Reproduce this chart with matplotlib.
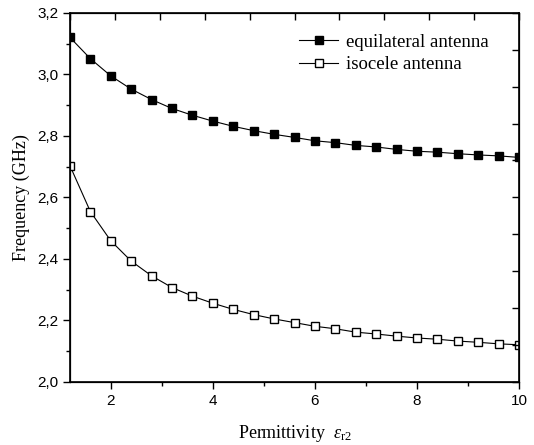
import numpy as np
import matplotlib
matplotlib.use('Agg')
import matplotlib.pyplot as plt
from matplotlib.ticker import FuncFormatter, MultipleLocator

plt.rcParams['mathtext.fontset'] = 'custom'
plt.rcParams['mathtext.rm'] = 'Liberation Serif'
plt.rcParams['mathtext.it'] = 'Liberation Serif:italic'

# permittivity values (x axis)
eps = [1.2, 1.6, 2.0, 2.4, 2.8, 3.2, 3.6, 4.0, 4.4, 4.8, 5.2, 5.6,
       6.0, 6.4, 6.8, 7.2, 7.6, 8.0, 8.4, 8.8, 9.2, 9.6, 10.0]

# frequency in GHz
f_equi = [3.120, 3.051, 2.995, 2.952, 2.918, 2.889, 2.867, 2.848, 2.831, 2.817,
          2.805, 2.795, 2.784, 2.778, 2.769, 2.764, 2.756, 2.750, 2.747, 2.742,
          2.738, 2.735, 2.730]
f_iso = [2.703, 2.554, 2.459, 2.393, 2.345, 2.307, 2.279, 2.256, 2.236, 2.219,
         2.205, 2.193, 2.181, 2.173, 2.162, 2.156, 2.149, 2.143, 2.139, 2.133,
         2.129, 2.124, 2.121]

fig = plt.figure(figsize=(5.34, 4.45), dpi=100)
ax = fig.add_axes([0.131, 0.1416, 0.841, 0.8296])

ax.plot(eps, f_equi, color='black', lw=0.8, marker='s', ms=6,
        mfc='black', mec='black', label='equilateral antenna')
ax.plot(eps, f_iso, color='black', lw=0.8, marker='s', ms=6,
        mfc='white', mec='black', mew=1.0, label='isocele antenna')

ax.set_xlim(1.2, 10)
ax.set_ylim(2.0, 3.2)
ax.xaxis.set_major_locator(MultipleLocator(2))
ax.xaxis.set_minor_locator(MultipleLocator(1))
ax.yaxis.set_major_locator(MultipleLocator(0.2))
ax.yaxis.set_minor_locator(MultipleLocator(0.1))

comma = FuncFormatter(lambda v, p: ('%.1f' % v).replace('.', ','))
ax.yaxis.set_major_formatter(comma)
ax.xaxis.set_major_formatter(FuncFormatter(lambda v, p: '%d' % round(v)))

for lab in ax.get_xticklabels() + ax.get_yticklabels():
    lab.set_fontfamily('Liberation Sans')
ax.tick_params(which='major', direction='out', length=5, width=1, labelsize=11)
ax.tick_params(which='minor', direction='out', length=3, width=1)
for s in ax.spines.values():
    s.set_linewidth(1.2)

# top / right axes: ten equal divisions, inward ticks, no labels
ax_t = ax.twiny()
ax_t.set_xlim(ax.get_xlim())
ax_t.set_xticks(np.linspace(1.2, 10, 11))
ax_t.tick_params(axis='x', direction='in', length=5, width=1, labeltop=False)
ax_r = ax.twinx()
ax_r.set_ylim(ax.get_ylim())
ax_r.set_yticks(np.linspace(2.0, 3.2, 11))
ax_r.tick_params(axis='y', direction='in', length=5, width=1, labelright=False)

ax.set_xlabel(r'Permittivity  $\mathit{\varepsilon}_{\mathrm{r2}}$', fontfamily='Liberation Serif',
              fontsize=13, labelpad=11)
ax.set_ylabel('Frequency (GHz)', fontfamily='Liberation Serif', fontsize=13, labelpad=5)

ax.legend(loc='upper right', bbox_to_anchor=(0.978, 1.0), frameon=False,
          prop={'family': 'Liberation Serif', 'size': 13.5}, handlelength=2.1,
          handletextpad=0.4, labelspacing=0.3, borderaxespad=0.8, borderpad=0.3)

fig.savefig('out.png', dpi=100)
